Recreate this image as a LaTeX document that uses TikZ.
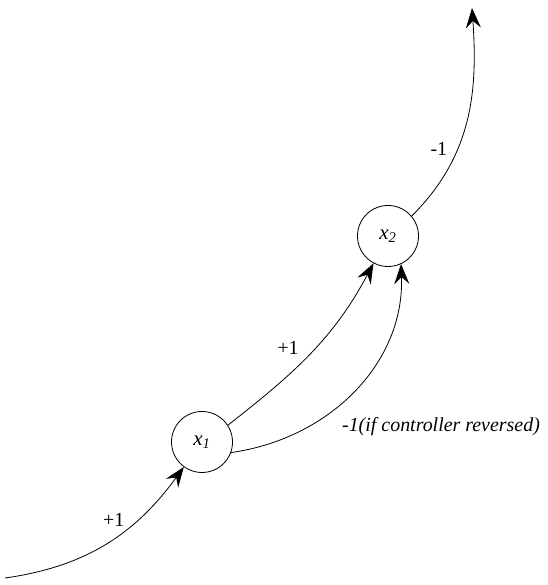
\documentclass[tikz,border=0pt]{standalone}
\usepackage{fontspec}
\setmainfont{Liberation Serif}
\usepackage{tikz}
\usetikzlibrary{arrows.meta,positioning}

\begin{document}
\begin{tikzpicture}[
    x=1bp, y=1bp,
    state/.style={draw, circle, minimum size=61bp, inner sep=0pt, line width=0.8bp, font=\rmfamily\fontsize{21}{23}\selectfont\itshape},
    arrow/.style={-{Stealth[length=20bp, width=15bp, inset=7bp]}, line width=0.8bp},
    lbl/.style={font=\rmfamily\fontsize{20}{23}\selectfont}
]
\useasboundingbox (0,0) rectangle (548,585);
\node[state] (x1) at (202,143) {x\textsubscript{1}};
\node[state] (x2) at (388,349) {x\textsubscript{2}};
\coordinate (in) at (5,7);
\coordinate (out) at (472,577);

\draw[arrow] (in) to[out=8, in=234] node[lbl, pos=0.62, above left=-2bp] {+1} (x1.234);
\draw[arrow] (x1.33) to[out=38, in=242] node[lbl, pos=0.45, above left=2bp] {+1} (x2.242);
\draw[arrow] (x1.340) to[out=8, in=272] (x2.295);
\node[lbl, font=\rmfamily\fontsize{20}{23}\selectfont\itshape] (rev) at (441,158) {-1(if controller reversed)};
\draw[arrow] (x2.40) to[out=45, in=274] node[lbl, pos=0.3, above left=2bp] {-1} (out);
\end{tikzpicture}
\end{document}
